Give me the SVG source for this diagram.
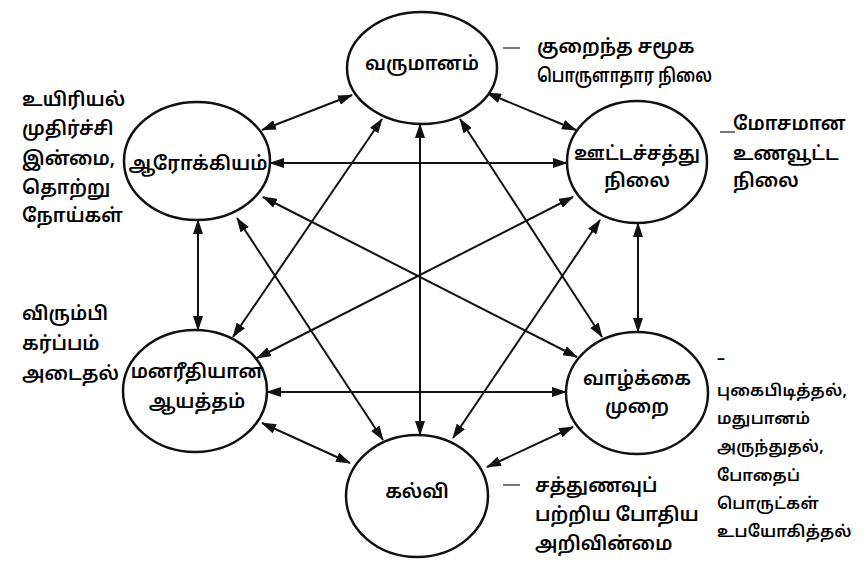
<svg xmlns="http://www.w3.org/2000/svg" width="868" height="563" viewBox="0 0 868 563">
<style>
.node ellipse{fill:#fff;stroke:#111;stroke-width:2.5}
.lbl{font-family:"Noto Sans Tamil","Lohit Tamil","Latha","Noto Sans",sans-serif;font-size:19px;font-weight:600;fill:#000;text-anchor:middle;dominant-baseline:central}
.side{font-family:"Noto Sans Tamil","Lohit Tamil","Latha","Noto Sans",sans-serif;font-size:19px;font-weight:600;fill:#000;dominant-baseline:central}
.small{font-size:16px;letter-spacing:0.3px}
.dash{stroke:#777;stroke-width:2}
.conn line{stroke:#111;stroke-width:2;marker-start:url(#ah);marker-end:url(#ah)}
</style>
<defs>
<marker id="ah" viewBox="0 0 15 10" refX="14" refY="5" markerWidth="15" markerHeight="10" markerUnits="userSpaceOnUse" orient="auto-start-reverse">
<path d="M0,0 L15,5 L0,10 z" fill="#111"/>
</marker>
</defs>
<rect width="868" height="563" fill="#fff"/>
<g id="connectors" class="conn">
<line x1="352" y1="95" x2="262" y2="130"/>
<line x1="487" y1="93" x2="576" y2="130"/>
<line x1="382" y1="119" x2="233" y2="337"/>
<line x1="420" y1="124" x2="420" y2="435"/>
<line x1="460" y1="119" x2="602" y2="337"/>
<line x1="270" y1="163" x2="567" y2="163"/>
<line x1="198" y1="220" x2="198" y2="330"/>
<line x1="263" y1="197" x2="577" y2="357"/>
<line x1="237" y1="218" x2="383" y2="440"/>
<line x1="573" y1="197" x2="257" y2="358"/>
<line x1="638" y1="223" x2="638" y2="332"/>
<line x1="600" y1="220" x2="453" y2="438"/>
<line x1="267" y1="392" x2="566" y2="392"/>
<line x1="262" y1="423" x2="350" y2="463"/>
<line x1="573" y1="427" x2="487" y2="467"/>
</g>
<g id="n-income" class="node">
<ellipse cx="422" cy="68" rx="75" ry="56"/>
<text class="lbl" x="422" y="65">வருமானம்</text>
</g>
<g id="n-health" class="node">
<ellipse cx="197" cy="161" rx="73" ry="59"/>
<text class="lbl" x="198" y="165">ஆரோக்கியம்</text>
</g>
<g id="n-nutrition" class="node">
<ellipse cx="637" cy="162" rx="70" ry="61"/>
<text class="lbl" x="637" y="155">ஊட்டச்சத்து</text>
<text class="lbl" x="637" y="182">நிலை</text>
</g>
<g id="n-mental" class="node">
<ellipse cx="195" cy="391" rx="72" ry="61"/>
<text class="lbl" x="197" y="373">மனரீதியான</text>
<text class="lbl" x="197" y="403">ஆயத்தம்</text>
</g>
<g id="n-lifestyle" class="node">
<ellipse cx="637" cy="393" rx="71" ry="61"/>
<text class="lbl" x="637" y="380">வாழ்க்கை</text>
<text class="lbl" x="637" y="408">முறை</text>
</g>
<g id="n-education" class="node">
<ellipse cx="417" cy="496" rx="71" ry="61"/>
<text class="lbl" x="417" y="493">கல்வி</text>
</g>
<g id="notes">
<line class="dash" x1="503" y1="48" x2="520" y2="48"/>
<text class="side" x="537" y="48">குறைந்த சமூக</text>
<text class="side" x="537" y="77" textLength="175" lengthAdjust="spacingAndGlyphs">பொருளாதார நிலை</text>
<text class="side" x="22" y="101">உயிரியல்</text>
<text class="side" x="22" y="130">முதிர்ச்சி</text>
<text class="side" x="22" y="160">இன்மை,</text>
<text class="side" x="22" y="189">தொற்று</text>
<text class="side" x="22" y="217">நோய்கள்</text>
<line class="dash" x1="720" y1="132" x2="735" y2="132"/>
<text class="side" x="733" y="125">மோசமான</text>
<text class="side" x="733" y="155">உணவூட்ட</text>
<text class="side" x="733" y="182">நிலை</text>
<text class="side" x="22" y="315">விரும்பி</text>
<text class="side" x="22" y="345">கர்ப்பம்</text>
<text class="side" x="22" y="375">அடைதல்</text>
<text class="side small" x="717" y="360">–</text>
<text class="side small" x="717" y="392">புகைபிடித்தல்,</text>
<text class="side small" x="717" y="420">மதுபானம்</text>
<text class="side small" x="717" y="448">அருந்துதல்,</text>
<text class="side small" x="717" y="477">போதைப்</text>
<text class="side small" x="717" y="505">பொருட்கள்</text>
<text class="side small" x="717" y="533">உபயோகித்தல்</text>
<line class="dash" x1="503" y1="485" x2="520" y2="485"/>
<text class="side" x="535" y="487">சத்துணவுப்</text>
<text class="side" x="535" y="516">பற்றிய போதிய</text>
<text class="side" x="535" y="545">அறிவின்மை</text>
</g>
</svg>
